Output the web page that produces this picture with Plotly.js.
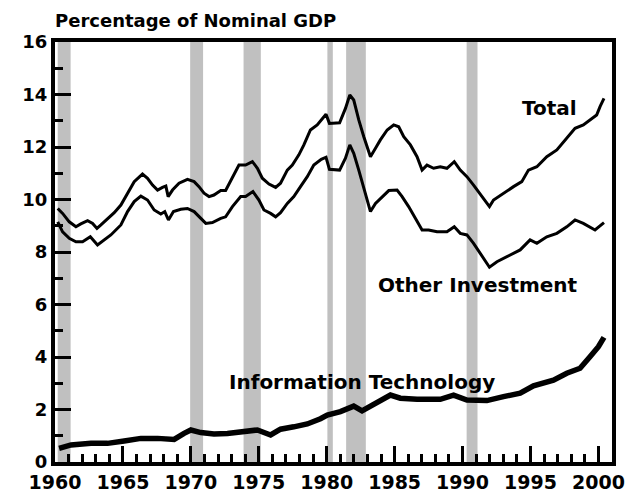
<!DOCTYPE html>
<html>
<head>
<meta charset="utf-8">
<script src="https://cdn.plot.ly/plotly-3.0.1.min.js"></script>
<style>html,body{margin:0;padding:0;background:#fff;}</style>
</head>
<body>
<div id="chart" style="width:627px;height:499px;"></div>
<script>
// Total
const totalYears = [1960.2, 1960.56, 1961.05, 1961.54, 1961.9, 1962.4, 1962.77, 1963.09, 1963.38, 1963.87, 1964.36, 1964.85,
  1965.34, 1965.83, 1966.44, 1966.81, 1967.18, 1967.55, 1967.91, 1968.16, 1968.33, 1968.65, 1969.13, 1969.75,
  1970.24, 1970.6, 1970.97, 1971.34, 1971.7, 1972.2, 1972.56, 1973.06, 1973.54, 1974.03, 1974.53, 1974.9,
  1975.26, 1975.75, 1976.24, 1976.6, 1977.1, 1977.47, 1977.95, 1978.32, 1978.8, 1979.3, 1979.67, 1979.95,
  1980.2, 1980.95, 1981.38, 1981.7, 1981.99, 1982.36, 1982.73, 1983.22, 1983.59, 1983.95, 1984.45, 1984.93,
  1985.3, 1985.67, 1986.16, 1986.65, 1987.02, 1987.38, 1987.87, 1988.36, 1988.85, 1989.39, 1989.83,
  1990.32, 1990.81, 1991.43, 1991.98, 1992.28, 1993.01, 1993.75, 1994.36, 1994.85,
  1995.47, 1996.2, 1996.94, 1997.67, 1998.28, 1998.89, 1999.51, 1999.87, 2000.12, 2000.41];
const totalVals = [9.66, 9.47, 9.15, 8.96, 9.07, 9.19, 9.09, 8.90, 9.03, 9.28, 9.50, 9.79,
  10.24, 10.68, 10.97, 10.81, 10.55, 10.36, 10.46, 10.51, 10.11, 10.36, 10.62, 10.77,
  10.68, 10.49, 10.24, 10.11, 10.17, 10.34, 10.34, 10.81, 11.31, 11.31, 11.44, 11.19,
  10.81, 10.59, 10.46, 10.62, 11.12, 11.31, 11.70, 12.08, 12.65, 12.84, 13.1, 13.25,
  12.9, 12.92, 13.47, 13.98, 13.79, 13.03, 12.39, 11.63, 11.95, 12.27, 12.65, 12.84,
  12.77, 12.39, 12.08, 11.63, 11.12, 11.31, 11.19, 11.25, 11.19, 11.44, 11.12,
  10.87, 10.55, 10.11, 9.73, 9.98, 10.24, 10.49, 10.68, 11.12,
  11.25, 11.63, 11.89, 12.33, 12.71, 12.84, 13.09, 13.22, 13.54, 13.85];

// Other Investment
const otherYears = [1960.2, 1960.56, 1961.05, 1961.54, 1962.03, 1962.6, 1963.13, 1963.62, 1964.11, 1964.85,
  1965.34, 1965.83, 1966.32, 1966.81, 1967.3, 1967.79, 1968.08, 1968.35, 1968.72, 1969.26, 1969.75,
  1970.24, 1970.73, 1971.1, 1971.59, 1972.2, 1972.56, 1973.06, 1973.67, 1974.03, 1974.57,
  1975.01, 1975.38, 1975.87, 1976.24, 1976.6, 1977.1, 1977.58, 1978.07, 1978.57, 1979.05, 1979.6, 1979.95,
  1980.2, 1980.95, 1981.38, 1981.7, 1981.99, 1982.36, 1982.85, 1983.22, 1983.59, 1984.08, 1984.57,
  1985.18, 1985.55, 1986.03, 1986.53, 1987.02, 1987.5, 1988.12, 1988.85, 1989.39, 1989.83,
  1990.32, 1990.81, 1991.43, 1991.98, 1992.53, 1993.26, 1994.24, 1994.97,
  1995.47, 1996.2, 1996.94, 1997.67, 1998.28, 1998.89, 1999.75, 2000.41];
const otherVals = [9.15, 8.77, 8.52, 8.39, 8.39, 8.58, 8.27, 8.46, 8.65, 9.03,
  9.54, 9.92, 10.13, 9.98, 9.60, 9.45, 9.54, 9.22, 9.54, 9.63, 9.66,
  9.54, 9.28, 9.09, 9.12, 9.28, 9.34, 9.73, 10.11, 10.11, 10.30,
  9.98, 9.60, 9.47, 9.34, 9.50, 9.85, 10.11, 10.49, 10.87, 11.31, 11.53, 11.61,
  11.15, 11.12, 11.57, 12.08, 11.76, 11.12, 10.24, 9.54, 9.85, 10.11, 10.34,
  10.36, 10.11, 9.73, 9.28, 8.84, 8.84, 8.77, 8.77, 8.96, 8.71,
  8.65, 8.33, 7.82, 7.42, 7.63, 7.82, 8.08, 8.46,
  8.33, 8.58, 8.71, 8.96, 9.22, 9.09, 8.84, 9.12];

// Information Technology
const itYears = [1960.3, 1961.18, 1962.65, 1963.87, 1965.09, 1966.32, 1967.55, 1968.77, 1969.5, 1970.0,
  1970.73, 1971.7, 1972.69, 1973.9, 1974.9, 1975.87, 1976.6, 1977.58, 1978.57, 1979.54,
  1980.04, 1981.01, 1981.99, 1982.6, 1983.71, 1984.69, 1985.42, 1986.65, 1988.36, 1989.34,
  1990.32, 1991.79, 1993.01, 1994.24, 1995.22, 1996.69, 1997.67, 1998.65, 1999.38, 2000.0, 2000.41];
const itVals = [0.52, 0.65, 0.71, 0.71, 0.80, 0.90, 0.90, 0.86, 1.09, 1.22,
  1.12, 1.07, 1.09, 1.15, 1.22, 1.03, 1.25, 1.34, 1.45, 1.65,
  1.79, 1.92, 2.13, 1.95, 2.26, 2.55, 2.43, 2.39, 2.39, 2.55,
  2.36, 2.34, 2.49, 2.62, 2.90, 3.12, 3.38, 3.57, 4.01, 4.39, 4.75];

// Recession periods (shaded)
const recStart = [1960.2, 1969.95, 1973.88, 1980.05, 1981.43, 1990.3];
const recEnd   = [1961.15, 1970.9, 1975.15, 1980.45, 1982.88, 1991.1];

// Series labels
const labelText = ["Total", "Other Investment", "Information Technology"];
const labelX = [1996.4, 1991.1, 1982.6];
const labelY = [13.5, 6.75, 3.05];

// Axis ticks
const xTickVals = [1960, 1965, 1970, 1975, 1980, 1985, 1990, 1995, 2000];
const xTickText = ["1960", "1965", "1970", "1975", "1980", "1985", "1990", "1995", "2000"];
const xMinorVals = [1961, 1962, 1963, 1964, 1966, 1967, 1968, 1969, 1971, 1972, 1973, 1974,
  1976, 1977, 1978, 1979, 1981, 1982, 1983, 1984, 1986, 1987, 1988, 1989,
  1991, 1992, 1993, 1994, 1996, 1997, 1998, 1999, 2001];
const yTickVals = [0, 2, 4, 6, 8, 10, 12, 14, 16];
const yTickText = ["0", "2", "4", "6", "8", "10", "12", "14", "16"];
const yMinorVals = [1, 3, 5, 7, 9, 11, 13, 15];

const FONT = 'DejaVu Sans, Arial, sans-serif';

const traces = [
  {x: totalYears, y: totalVals, type: 'scatter', mode: 'lines', line: {color: '#000', width: 3}, hoverinfo: 'skip'},
  {x: otherYears, y: otherVals, type: 'scatter', mode: 'lines', line: {color: '#000', width: 3}, hoverinfo: 'skip'},
  {x: itYears, y: itVals, type: 'scatter', mode: 'lines', line: {color: '#000', width: 5.5}, hoverinfo: 'skip'}
];

const shapes = recStart.map((s, i) => ({
  type: 'rect', xref: 'x', yref: 'paper', x0: s, x1: recEnd[i], y0: 0, y1: 1,
  fillcolor: '#c0c0c0', line: {width: 0}, layer: 'below'
}));

const annotations = labelText.map((t, i) => ({
  text: t, x: labelX[i], y: labelY[i], xref: 'x', yref: 'y',
  showarrow: false, xanchor: 'center', yanchor: 'middle',
  font: {family: FONT, size: 20, color: '#000', weight: 'bold'}
}));

const layout = {
  width: 627, height: 499,
  margin: {l: 55, r: 15, t: 42, b: 37},
  paper_bgcolor: '#fff', plot_bgcolor: '#fff',
  showlegend: false,
  title: {
    text: 'Percentage of Nominal GDP',
    x: 55/627, xanchor: 'left', xref: 'container',
    y: 1 - 21/499, yanchor: 'middle', yref: 'container',
    font: {family: FONT, size: 18, color: '#000', weight: 'bold'}
  },
  xaxis: {
    range: [1960, 2001], tickmode: 'array', tickvals: xTickVals, ticktext: xTickText,
    ticks: 'inside', ticklen: 16, tickwidth: 3, tickcolor: '#000',
    minor: {tickmode: 'array', tickvals: xMinorVals, ticks: 'inside', ticklen: 8, tickwidth: 3, tickcolor: '#000', showgrid: false},
    showline: true, linecolor: '#000', linewidth: 4, mirror: true,
    showgrid: false, zeroline: false,
    tickfont: {family: FONT, size: 19, color: '#000', weight: 'bold'}
  },
  yaxis: {
    range: [0, 16], tickmode: 'array', tickvals: yTickVals, ticktext: yTickText,
    ticks: 'inside', ticklen: 16, tickwidth: 3, tickcolor: '#000',
    minor: {tickmode: 'array', tickvals: yMinorVals, ticks: 'inside', ticklen: 8, tickwidth: 3, tickcolor: '#000', showgrid: false},
    showline: true, linecolor: '#000', linewidth: 4, mirror: true,
    showgrid: false, zeroline: false,
    tickfont: {family: FONT, size: 18, color: '#000', weight: 'bold'}
  },
  shapes: shapes,
  annotations: annotations
};

Plotly.newPlot('chart', traces, layout, {staticPlot: true, displayModeBar: false});
</script>
</body>
</html>
